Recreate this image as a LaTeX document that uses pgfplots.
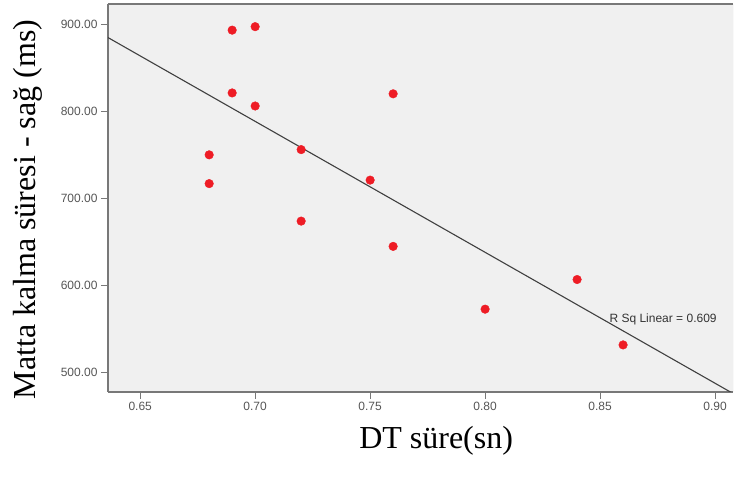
\documentclass[border=0pt]{standalone}
\usepackage{fontspec}
\setmainfont{Liberation Serif}
\setsansfont{Liberation Sans}
\usepackage{pgfplots}
\pgfplotsset{compat=1.18}
\definecolor{bgpanel}{RGB}{240,240,240}
\definecolor{framegray}{RGB}{120,120,120}
\definecolor{tickgray}{RGB}{85,85,85}
\definecolor{dotred}{RGB}{238,28,37}
\definecolor{fitgray}{RGB}{64,64,64}

\begin{document}
\begin{tikzpicture}
\begin{axis}[
    scale only axis,
    width=625pt, height=388pt,
    xmin=0.636, xmax=0.9078,
    ymin=478, ymax=923,
    axis background/.style={fill=bgpanel},
    axis line style={framegray, line width=1.2pt},
    axis x line*=bottom, axis y line*=left,
    xtick={0.65,0.70,...,0.901},
    ytick={500,600,700,800,900},
    tick align=outside,
    major tick length=7pt,
    tick style={framegray, line width=1pt},
    xticklabel style={/pgf/number format/.cd, fixed, fixed zerofill, precision=2},
    yticklabel style={/pgf/number format/.cd, fixed, fixed zerofill, precision=2},
    /pgf/number format/assume math mode=true,
    ticklabel style={font=\sffamily\fontsize{12}{14}\selectfont, text=tickgray},
    xlabel={DT süre(sn)},
    ylabel={Matta kalma süresi - sağ (ms)},
    label style={font=\fontsize{32}{36}\selectfont, text=black},
    xlabel style={at={(axis description cs:0.525,-0.127)}, anchor=center},
    ylabel style={at={(axis description cs:-0.128,0.47)}, anchor=center},
    clip=true,
  ]
  % outline of the plot area (top and right)
  \draw[framegray, line width=1.2pt] (rel axis cs:0,1) -- (rel axis cs:1,1);
  \draw[gray!40, line width=0.6pt] (rel axis cs:1,0) -- (rel axis cs:1,1);
  % fit line
  \addplot[fitgray, line width=1.1pt] coordinates {(0.636,884.5) (0.9078,476.3)};
  % observations
  \addplot[only marks, mark=*, mark size=4.3pt, draw=dotred, fill=dotred] coordinates {
    (0.69,893) (0.70,897) (0.69,821) (0.70,806)
    (0.68,750) (0.68,717) (0.72,756) (0.72,674)
    (0.75,721) (0.76,820) (0.76,645) (0.80,573)
    (0.84,607) (0.86,532)
  };
  \node[font=\sffamily\fontsize{12}{14}\selectfont, text=black!80] at (axis cs:0.8774,560.7) {R Sq Linear = 0.609};
\end{axis}
\path (current axis.south west) ++(-108pt,-86pt) rectangle ++(741pt,478pt);
\end{tikzpicture}
\end{document}
